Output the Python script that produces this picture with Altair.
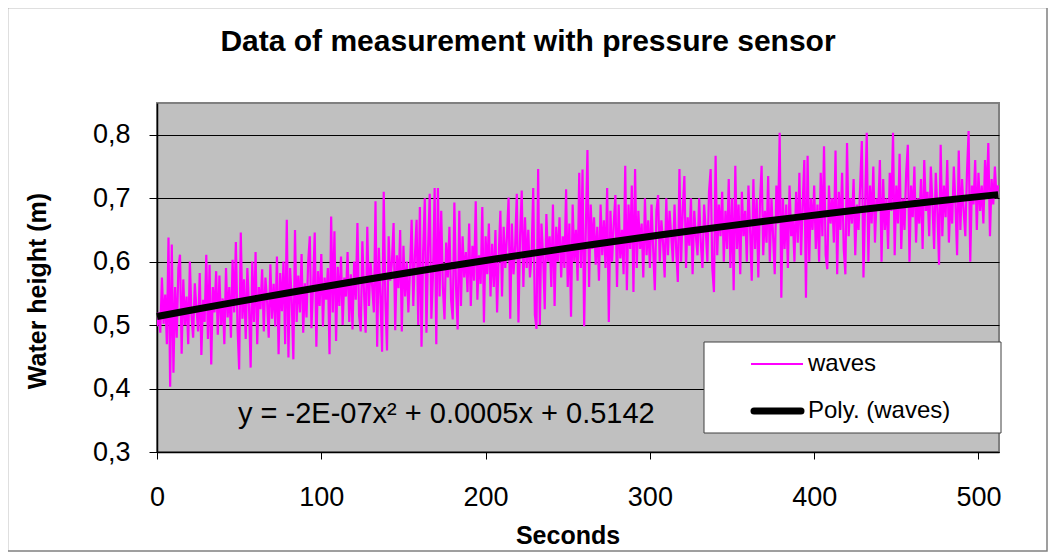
import altair as alt
import pandas as pd

# ---- data (seconds, water height in m) ----
seconds = list(range(0, 513))
waves = [
    0.498, 0.520, 0.488, 0.575, 0.502, 0.548, 0.470, 0.638, 0.403, 0.627,
    0.425, 0.560, 0.480, 0.590, 0.611, 0.455, 0.572, 0.500, 0.545, 0.470,
    0.600, 0.515, 0.480, 0.566, 0.527, 0.490, 0.582, 0.453, 0.540, 0.505,
    0.611, 0.478, 0.595, 0.438, 0.560, 0.520, 0.585, 0.485, 0.578, 0.500,
    0.542, 0.470, 0.590, 0.512, 0.560, 0.480, 0.603, 0.520, 0.631, 0.498,
    0.430, 0.646, 0.510, 0.572, 0.478, 0.590, 0.530, 0.433, 0.600, 0.505,
    0.615, 0.470, 0.560, 0.525, 0.588, 0.490, 0.575, 0.538, 0.480, 0.596,
    0.510, 0.565, 0.498, 0.608, 0.454, 0.582, 0.522, 0.600, 0.470, 0.666,
    0.449, 0.590, 0.540, 0.446, 0.650, 0.505, 0.578, 0.520, 0.612, 0.488,
    0.566, 0.512, 0.598, 0.640, 0.495, 0.560, 0.646, 0.466, 0.585, 0.530,
    0.612, 0.498, 0.575, 0.540, 0.590, 0.454, 0.671, 0.520, 0.648, 0.475,
    0.592, 0.530, 0.608, 0.500, 0.575, 0.545, 0.615, 0.505, 0.580, 0.493,
    0.600, 0.540, 0.661, 0.515, 0.490, 0.632, 0.552, 0.488, 0.655, 0.530,
    0.598, 0.560, 0.520, 0.695, 0.466, 0.622, 0.545, 0.458, 0.710, 0.540,
    0.460, 0.640, 0.570, 0.600, 0.661, 0.492, 0.610, 0.558, 0.650, 0.490,
    0.625, 0.545, 0.600, 0.520, 0.588, 0.666, 0.530, 0.610, 0.666, 0.500,
    0.686, 0.466, 0.615, 0.700, 0.488, 0.620, 0.707, 0.510, 0.580, 0.716,
    0.470, 0.716, 0.545, 0.680, 0.560, 0.509, 0.630, 0.575, 0.655, 0.540,
    0.509, 0.693, 0.560, 0.493, 0.680, 0.530, 0.640, 0.575, 0.615, 0.552,
    0.660, 0.530, 0.625, 0.570, 0.695, 0.540, 0.610, 0.565, 0.686, 0.504,
    0.640, 0.580, 0.660, 0.545, 0.628, 0.560, 0.650, 0.520, 0.610, 0.680,
    0.545, 0.655, 0.590, 0.640, 0.701, 0.510, 0.660, 0.580, 0.625, 0.707,
    0.504, 0.640, 0.712, 0.560, 0.670, 0.590, 0.650, 0.575, 0.610, 0.716,
    0.516, 0.494, 0.746, 0.500, 0.660, 0.610, 0.525, 0.675, 0.600, 0.640,
    0.560, 0.690, 0.530, 0.655, 0.600, 0.670, 0.575, 0.640, 0.590, 0.714,
    0.560, 0.660, 0.513, 0.690, 0.600, 0.650, 0.570, 0.740, 0.590, 0.745,
    0.498, 0.650, 0.776, 0.560, 0.690, 0.620, 0.670, 0.595, 0.655, 0.570,
    0.690, 0.610, 0.665, 0.590, 0.716, 0.505, 0.680, 0.600, 0.660, 0.705,
    0.560, 0.690, 0.605, 0.650, 0.580, 0.751, 0.555, 0.690, 0.620, 0.720,
    0.552, 0.746, 0.590, 0.680, 0.620, 0.660, 0.575, 0.700, 0.610, 0.665,
    0.590, 0.690, 0.620, 0.555, 0.680, 0.705, 0.600, 0.665, 0.630, 0.575,
    0.700, 0.610, 0.680, 0.640, 0.600, 0.690, 0.620, 0.568, 0.746, 0.600,
    0.680, 0.735, 0.590, 0.670, 0.625, 0.700, 0.580, 0.680, 0.640, 0.610,
    0.700, 0.630, 0.590, 0.690, 0.650, 0.600, 0.710, 0.746, 0.590, 0.552,
    0.767, 0.610, 0.690, 0.640, 0.710, 0.600, 0.680, 0.620, 0.730, 0.590,
    0.700, 0.555, 0.751, 0.620, 0.690, 0.580, 0.710, 0.640, 0.680, 0.600,
    0.720, 0.650, 0.570, 0.730, 0.620, 0.700, 0.575, 0.690, 0.751, 0.610,
    0.680, 0.630, 0.735, 0.600, 0.700, 0.640, 0.580, 0.720, 0.660, 0.803,
    0.543, 0.700, 0.620, 0.690, 0.590, 0.720, 0.640, 0.670, 0.600, 0.710,
    0.630, 0.740, 0.610, 0.690, 0.760, 0.543, 0.767, 0.600, 0.700, 0.650,
    0.720, 0.620, 0.690, 0.600, 0.740, 0.640, 0.782, 0.610, 0.588, 0.720,
    0.660, 0.700, 0.630, 0.775, 0.580, 0.710, 0.650, 0.740, 0.620, 0.580,
    0.787, 0.640, 0.700, 0.660, 0.730, 0.610, 0.690, 0.650, 0.720, 0.790,
    0.575, 0.690, 0.803, 0.600, 0.720, 0.660, 0.750, 0.630, 0.700, 0.680,
    0.760, 0.600, 0.730, 0.650, 0.700, 0.620, 0.740, 0.680, 0.803, 0.610,
    0.720, 0.660, 0.770, 0.620, 0.700, 0.650, 0.740, 0.784, 0.600, 0.720,
    0.670, 0.750, 0.630, 0.700, 0.660, 0.730, 0.620, 0.760, 0.680, 0.710,
    0.640, 0.750, 0.690, 0.620, 0.740, 0.680, 0.595, 0.784, 0.640, 0.720,
    0.670, 0.760, 0.630, 0.700, 0.660, 0.750, 0.690, 0.610, 0.775, 0.650,
    0.730, 0.680, 0.640, 0.740, 0.806, 0.600, 0.720, 0.690, 0.760, 0.650,
    0.740, 0.680, 0.720, 0.660, 0.760, 0.700, 0.787, 0.640, 0.730, 0.690,
    0.750, 0.700, 0.720,
]
x_ticks = [0, 100, 200, 300, 400, 500]
y_ticks = [0.3, 0.4, 0.5, 0.6, 0.7, 0.8]

title_text = "Data of measurement with pressure sensor"
y_title = "Water height (m)"
x_title = "Seconds"
equation = "y = -2E-07x\u00b2 + 0.0005x + 0.5142"
legend_labels = ["waves", "Poly. (waves)"]

df = pd.DataFrame({"t": seconds, "v": waves})
one = alt.Data(values=[{"k": 1}])

FONT = "Liberation Sans"
MAGENTA = "#FF00FF"

x_enc = alt.X(
    "t:Q",
    scale=alt.Scale(domain=[0, 512.5], nice=False, zero=False),
    axis=alt.Axis(values=x_ticks, title=None, grid=False, tickSize=7,
                  labelPadding=25, labelFontSize=27, format="d",
                  labelFlush=False, labelOverlap=False),
)
y_enc = alt.Y(
    "v:Q",
    scale=alt.Scale(domain=[0.3, 0.85], nice=False, zero=False),
    axis=alt.Axis(values=y_ticks, title=None, grid=True, tickSize=8,
                  labelPadding=19, labelFontSize=27, labelFlush=False,
                  labelExpr="replace(format(datum.value, '.1f'), '.', ',')"),
)

border = alt.Chart(one).mark_rect(fill="white", fillOpacity=0, stroke="#808080", strokeWidth=1.5).encode(
    x=alt.value(-149.5), x2=alt.value(890), y=alt.value(-95.5), y2=alt.value(448)
)

waves_line = alt.Chart(df).mark_line(color=MAGENTA, strokeWidth=2.2, clip=True).encode(x=x_enc, y=y_enc)

trend = (
    alt.Chart(df)
    .transform_regression("t", "v", method="poly", order=2, extent=[0, 512])
    .mark_line(color="black", strokeWidth=7)
    .encode(x="t:Q", y="v:Q")
)

legend_box = alt.Chart(one).mark_rect(fill="white", stroke="#404040", strokeWidth=1).encode(
    x=alt.value(547), x2=alt.value(844), y=alt.value(239), y2=alt.value(330)
)
leg_waves = alt.Chart(one).mark_rule(color=MAGENTA, strokeWidth=2).encode(
    x=alt.value(594), x2=alt.value(646), y=alt.value(261)
)
leg_poly = alt.Chart(one).mark_rule(color="black", strokeWidth=7, strokeCap="round").encode(
    x=alt.value(597), x2=alt.value(644), y=alt.value(308)
)
leg_t1 = alt.Chart(one).mark_text(align="left", baseline="middle", fontSize=24, font=FONT, color="black").encode(
    x=alt.value(651), y=alt.value(261), text=alt.value(legend_labels[0])
)
leg_t2 = alt.Chart(one).mark_text(align="left", baseline="middle", fontSize=24, font=FONT, color="black").encode(
    x=alt.value(651), y=alt.value(308), text=alt.value(legend_labels[1])
)

eq = alt.Chart(one).mark_text(align="left", baseline="alphabetic", fontSize=29, font=FONT, color="black").encode(
    x=alt.value(81), y=alt.value(320), text=alt.value(equation)
)
title = alt.Chart(one).mark_text(align="center", baseline="alphabetic", fontSize=30, font=FONT,
                                 fontWeight="bold", color="black").encode(
    x=alt.value(371), y=alt.value(-52), text=alt.value(title_text)
)
ytitle = alt.Chart(one).mark_text(align="center", baseline="middle", fontSize=25, font=FONT,
                                  fontWeight="bold", angle=270, color="black").encode(
    x=alt.value(-119), y=alt.value(188), text=alt.value(y_title)
)
xtitle = alt.Chart(one).mark_text(align="center", baseline="middle", fontSize=25, font=FONT,
                                  fontWeight="bold", color="black").encode(
    x=alt.value(411), y=alt.value(433), text=alt.value(x_title)
)

chart = (
    alt.layer(border, waves_line, trend, legend_box, leg_waves, leg_poly, leg_t1, leg_t2,
              eq, title, ytitle, xtitle)
    .properties(
        width=842, height=349,
        autosize=alt.AutoSizeParams(type="none"),
        padding={"left": 149, "top": 95, "right": 49, "bottom": 100},
        background="white",
    )
    .configure_view(fill="#C0C0C0", stroke="#808080", strokeWidth=2)
    .configure_axis(
        domainColor="black", domainWidth=1.5, tickColor="black", tickWidth=1,
        gridColor="black", gridWidth=1, gridOpacity=1,
        labelFont=FONT, labelColor="black",
    )
)

chart.save("out.html", embed_options={"renderer": "svg", "actions": False})
